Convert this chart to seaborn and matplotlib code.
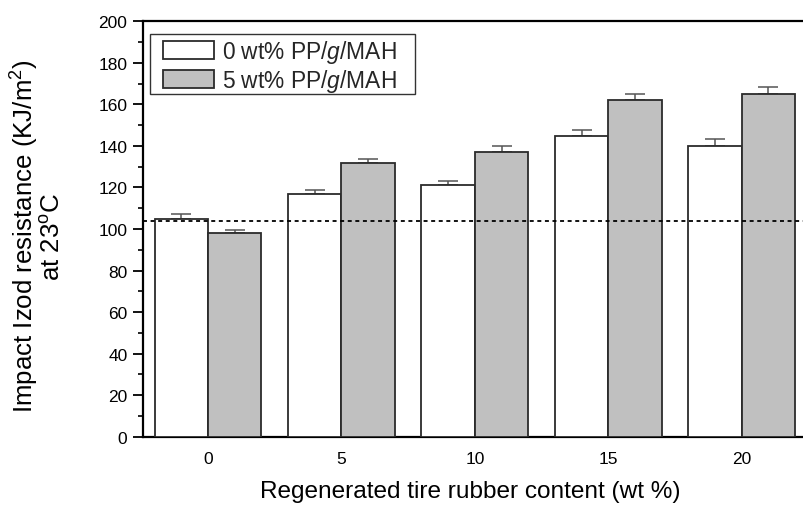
import matplotlib
matplotlib.use("Agg")
import matplotlib.pyplot as plt
import seaborn as sns
import pandas as pd
import numpy as np
from matplotlib.ticker import MultipleLocator
from matplotlib.patches import Patch, Rectangle

# ---- data ----
categories = ["0", "5", "10", "15", "20"]
series_names = ["0 wt% PP/$g$/MAH", "5 wt% PP/$g$/MAH"]
impact_0pp = [105, 117, 121, 145, 140]
impact_5pp = [98, 132, 137, 162, 165]
err_0pp = [2.0, 2.0, 2.2, 2.6, 3.2]
err_5pp = [1.6, 1.8, 2.9, 3.2, 3.5]
reference_level = 104

sns.set_theme(style="white")
plt.rcParams["font.family"] = ["Liberation Sans", "DejaVu Sans"]
plt.rcParams["mathtext.fontset"] = "custom"
plt.rcParams["mathtext.rm"] = "Liberation Sans"
plt.rcParams["mathtext.it"] = "Liberation Sans:italic"

df = pd.DataFrame({
    "content": categories * 2,
    "impact": impact_0pp + impact_5pp,
    "series": [series_names[0]] * 5 + [series_names[1]] * 5,
})

W, H = 804, 506
fig = plt.figure(figsize=(W / 100, H / 100), dpi=100)
ax = fig.add_axes([142.7 / W, (H - 437.7) / H, (807 - 142.7) / W, (437.7 - 22.3) / H])

colors = ["#ffffff", "#c0c0c0"]
edge = "#2b2b2b"
sns.barplot(data=df, x="content", y="impact", hue="series", order=categories,
            hue_order=series_names, palette=colors, saturation=1, width=0.8,
            edgecolor=edge, linewidth=1.3, errorbar=None, ax=ax, legend=False, zorder=3)

for cont, errs in zip(ax.containers, [err_0pp, err_5pp]):
    xs = [b.get_x() + b.get_width() / 2 for b in cont]
    ys = [b.get_height() for b in cont]
    ax.errorbar(xs, ys, yerr=[np.zeros(len(errs)), errs], fmt="none",
                ecolor="#555555", elinewidth=1.1, capsize=7, capthick=1.1, zorder=2)

ax.axhline(reference_level, color="black", lw=1.3, ls=(0, (2.2, 2.0)), zorder=4)

ax.set_xlim(-0.49, 4.49)
ax.set_ylim(0, 200)
ax.yaxis.set_major_locator(MultipleLocator(20))
ax.yaxis.set_minor_locator(MultipleLocator(10))
ax.tick_params(axis="y", which="major", direction="out", length=7, width=1.3,
               labelsize=12.5, pad=4, left=True, color="black", labelcolor="black")
ax.tick_params(axis="y", which="minor", direction="out", length=3.8, width=1.2, left=True, color="black")
ax.tick_params(axis="x", length=0, labelsize=12.5, pad=10, labelcolor="black")

for s in ["left", "bottom", "top", "right"]:
    ax.spines[s].set_visible(True)
    ax.spines[s].set_color("black")
    ax.spines[s].set_linewidth(1.6)

ax.set_xlabel("Regenerated tire rubber content (wt %)", fontsize=17.6, color="black")
ax.set_ylabel("Impact Izod resistance (KJ/m$^2$)\nat 23$^{\\mathrm{o}}$C", fontsize=18.6,
              color="black", linespacing=1.0, ha="center", multialignment="center")
ax.xaxis.set_label_coords(0.493, -0.105)
ax.yaxis.set_label_coords(-0.117, 0.484)

handles = [Patch(facecolor=c, edgecolor=edge, linewidth=1.3) for c in colors]
leg = ax.legend(handles, series_names, loc="upper left", bbox_to_anchor=(0.0301, 0.960),
                fontsize=16.4, frameon=False, handlelength=2.25,
                handleheight=0.85, handletextpad=0.35, labelspacing=0.1,
                borderpad=0, borderaxespad=0)

# legend frame drawn around the legend content with asymmetric padding
fig.canvas.draw()
r = fig.canvas.get_renderer()
hb = [h.get_window_extent(r) for h in leg.legend_handles]
tb = [t.get_window_extent(r) for t in leg.get_texts()]
x0 = min(b.x0 for b in hb) - 12.7
x1 = max(b.x1 for b in tb) + 18
y1 = max(b.y1 for b in hb) + 7.3
y0 = min(b.y0 for b in hb) - 5.7
frame = Rectangle((x0 / W, y0 / H), (x1 - x0) / W, (y1 - y0) / H, transform=fig.transFigure,
                  facecolor="white", edgecolor="#333333", linewidth=1.0, zorder=5)
ax.add_artist(frame)
frame.set_clip_on(False)
leg.set_zorder(6)

fig.savefig("out.png", dpi=100)
